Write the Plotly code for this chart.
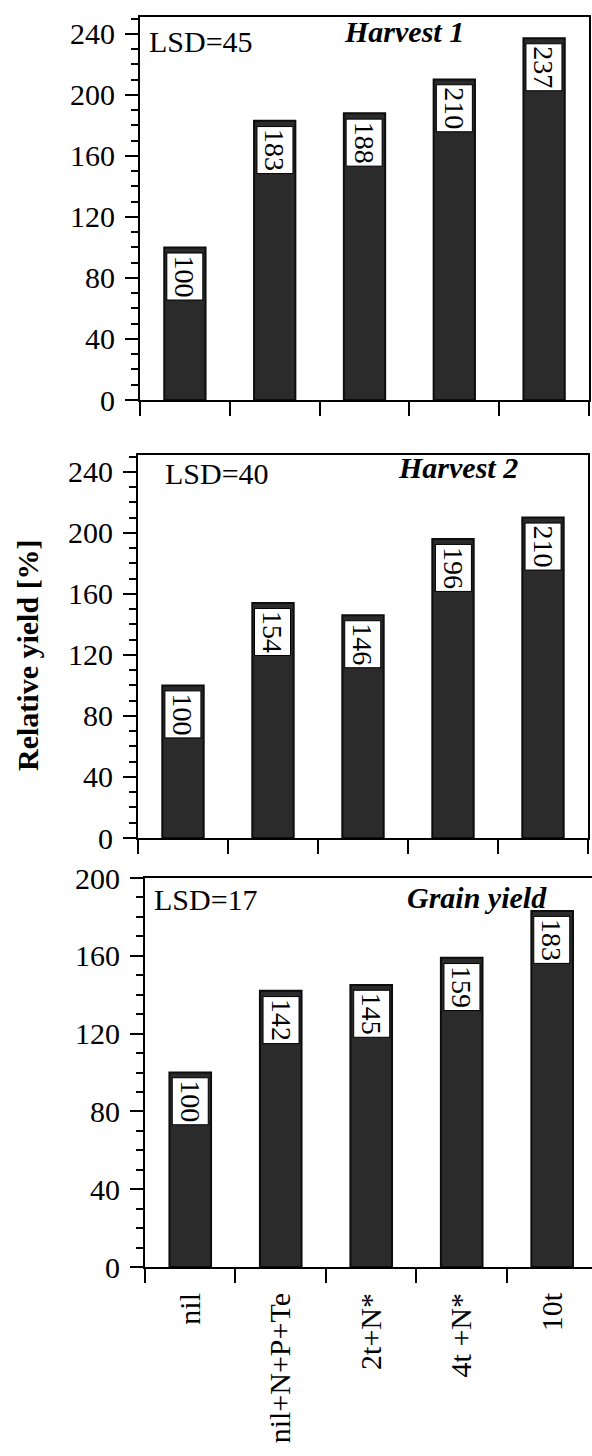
import plotly.graph_objects as go

# Treatments (x categories)
treatments = ["nil", "nil+N+P+Te", "2t+N*", "4t +N*", "10t"]

# Relative yield (%) per treatment, nil = 100
harvest1 = [100, 183, 188, 210, 237]
harvest2 = [100, 154, 146, 196, 210]
grain_yield = [100, 142, 145, 159, 183]

# Panel headings and least significant differences
panel_titles = ["Harvest 1", "Harvest 2", "Grain yield"]
lsd_values = [45, 40, 17]

# Axis ranges and tick spacing per panel
y_max = [251, 251, 200]
y_major = [40, 40, 40]
y_minor = [10, 10, 10]

W, H = 592, 1456
SERIF = "Liberation Serif, Times New Roman, serif"
BAR_FILL = "#2b2b2b"


def fx(px):
    return px / W


def fy(py):
    return 1 - py / H


# Plot-area boxes in pixels: (left, right, top, bottom)
boxes = [
    (140, 589, 17, 400),
    (138, 588, 455, 838),
    (145, 592, 878, 1267),
]
x_ranges = [[-0.5, 4.5], [-0.5, 4.5], [-0.5, 4.44]]

series = [harvest1, harvest2, grain_yield]

fig = go.Figure()
layout = dict(
    width=W,
    height=H,
    margin=dict(l=0, r=0, t=0, b=0),
    paper_bgcolor="white",
    plot_bgcolor="white",
    showlegend=False,
    font=dict(family=SERIF, size=30, color="black"),
)

annotations = []

for i, (vals, box) in enumerate(zip(series, boxes)):
    n = "" if i == 0 else str(i + 1)
    xa, ya = "x" + n, "y" + n
    left, right, top, bottom = box

    fig.add_trace(
        go.Bar(
            x=treatments,
            y=vals,
            xaxis=xa,
            yaxis=ya,
            marker=dict(color=BAR_FILL, line=dict(color="#0d0d0d", width=2)),
            width=0.46,
            hoverinfo="x+y",
        )
    )

    last = i == 2
    layout["xaxis" + n] = dict(
        domain=[fx(left), fx(right)],
        anchor=ya,
        type="category",
        categoryorder="array",
        categoryarray=treatments,
        range=x_ranges[i],
        showline=True,
        linecolor="black",
        linewidth=2,
        mirror=True,
        ticks="outside",
        tickson="boundaries",
        ticklen=14,
        tickwidth=2,
        tickcolor="black",
        showgrid=False,
        zeroline=False,
        showticklabels=last,
        tickangle=-90,
        tickfont=dict(family=SERIF, size=30, color="black"),
        ticklabelstandoff=12,
        automargin=False,
        fixedrange=True,
    )
    layout["yaxis" + n] = dict(
        domain=[fy(bottom), fy(top)],
        anchor=xa,
        range=[0, y_max[i]],
        tick0=0,
        dtick=y_major[i],
        showline=True,
        linecolor="black",
        linewidth=2,
        mirror=not last,
        ticks="outside",
        ticklen=13,
        tickwidth=2,
        tickcolor="black",
        minor=dict(
            dtick=y_minor[i],
            tick0=0,
            ticks="outside",
            ticklen=7,
            tickwidth=1.5,
            tickcolor="black",
            showgrid=False,
        ),
        showgrid=False,
        zeroline=False,
        tickfont=dict(family=SERIF, size=30, color="black"),
        ticklabelstandoff=4,
        automargin=False,
        fixedrange=True,
    )

    # Value boxes inside the top of each bar
    for cat, v in zip(treatments, vals):
        annotations.append(
            dict(
                x=cat,
                y=v,
                xref=xa,
                yref=ya,
                text=str(v),
                textangle=90,
                showarrow=False,
                xanchor="center",
                yanchor="top",
                yshift=-5,
                bgcolor="white",
                bordercolor="black",
                borderwidth=1,
                borderpad=2,
                font=dict(family=SERIF, size=28, color="black"),
            )
        )

# LSD labels and panel headings
lsd_pos = [(147, 41), (163, 474), (152, 899)]
title_pos = [(404, 31), (458, 468), (477, 897)]
for i in range(3):
    annotations.append(
        dict(
            x=fx(lsd_pos[i][0]),
            y=fy(lsd_pos[i][1]),
            xref="paper",
            yref="paper",
            text=f"LSD={lsd_values[i]}",
            showarrow=False,
            xanchor="left",
            yanchor="middle",
            font=dict(family=SERIF, size=30, color="black"),
        )
    )
    annotations.append(
        dict(
            x=fx(title_pos[i][0]),
            y=fy(title_pos[i][1]),
            xref="paper",
            yref="paper",
            text=f"<b><i>{panel_titles[i]}</i></b>",
            showarrow=False,
            xanchor="center",
            yanchor="middle",
            font=dict(family=SERIF, size=30, color="black"),
        )
    )

# Shared y-axis title
annotations.append(
    dict(
        x=fx(28),
        y=fy(655),
        xref="paper",
        yref="paper",
        text="<b>Relative yield [%]</b>",
        textangle=-90,
        showarrow=False,
        xanchor="center",
        yanchor="middle",
        font=dict(family=SERIF, size=30, color="black"),
    )
)

layout["annotations"] = annotations
fig.update_layout(**layout)

fig.write_html("out.html")
